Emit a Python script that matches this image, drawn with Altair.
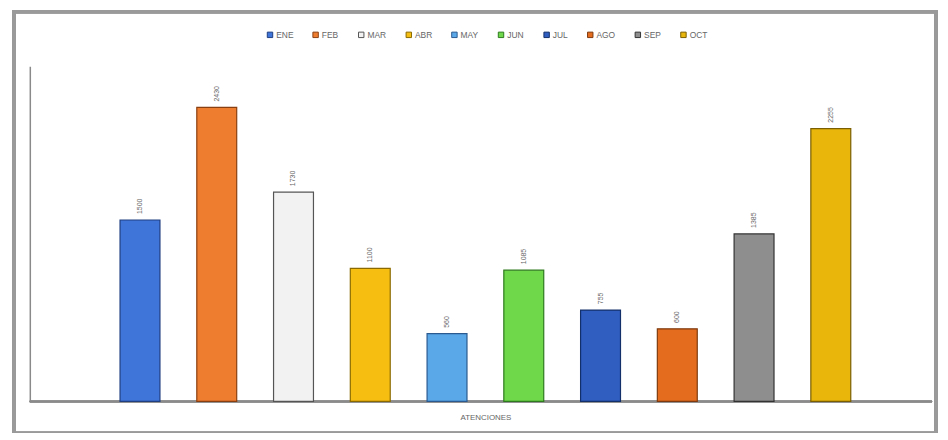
import altair as alt
import pandas as pd

months = ["ENE", "FEB", "MAR", "ABR", "MAY", "JUN", "JUL", "AGO", "SEP", "OCT"]
values = [1500, 2430, 1730, 1100, 560, 1085, 755, 600, 1385, 2255]
fills = ["#3F74D8", "#EF7D30", "#F2F2F2", "#F7BE12", "#5AA8E8", "#6FD84A",
         "#2F5DC0", "#E46C1E", "#8E8E8E", "#E9B70C"]
strokes = ["#1F3F80", "#8A3F10", "#555555", "#8A6A00", "#2A5A90", "#2E7A1E",
           "#14306A", "#7E3A0E", "#333333", "#7A5E00"]

df = pd.DataFrame({"mes": months, "valor": values})

x = alt.X("mes:N", sort=months,
          scale=alt.Scale(range=[91, 828], paddingInner=0.48, paddingOuter=0),
          axis=alt.Axis(title="ATENCIONES", labels=False, ticks=False, domain=False,
                        titleFontSize=8, titleFontWeight="normal",
                        titleColor="#666666", titlePadding=12,
                        titleFont="Liberation Sans"))
y = alt.Y("valor:Q", scale=alt.Scale(domain=[0, 2770], nice=False),
          axis=alt.Axis(title=None, labels=False, ticks=False, grid=False,
                        domainColor="#8a8a8a", domainWidth=1.5))

color = alt.Color("mes:N", sort=months,
                  scale=alt.Scale(domain=months, range=fills),
                  legend=alt.Legend(title=None, orient="none", direction="horizontal",
                                    legendX=238, legendY=-36, symbolType="square",
                                    symbolSize=30, symbolStrokeWidth=1,
                                    labelFontSize=8.5, labelColor="#666666",
                                    labelFont="Liberation Sans",
                                    columnPadding=17, labelOffset=2))

bars = alt.Chart(df).mark_bar(strokeWidth=1.2).encode(
    x=x, y=y, color=color,
    stroke=alt.Stroke("mes:N", sort=months,
                      scale=alt.Scale(domain=months, range=strokes), legend=None),
)

labels = alt.Chart(df).mark_text(angle=270, align="left", baseline="middle",
                                 dx=6, fontSize=7, color="#666666",
                                 font="Liberation Sans").encode(
    x=alt.X("mes:N", sort=months), y="valor:Q", text="valor:Q")

xaxis = alt.Chart(df).mark_rule(color="#8a8a8a", strokeWidth=1.5).encode(
    x=alt.value(0), x2=alt.value(910), y=alt.value(338))

border = alt.Chart(df).mark_rect(fill=None, stroke="#9a9a9a", strokeWidth=3).encode(
    x=alt.value(-16), x2=alt.value(914), y=alt.value(-55), y2=alt.value(370))

chart = alt.layer(border, xaxis, bars, labels).properties(
    width=910, height=338,
    background="white",
    autosize=alt.AutoSizeParams(type="none"),
    padding={"left": 22, "top": 57, "right": 8, "bottom": 30},
).configure_view(stroke=None, strokeWidth=0)

chart.save("out.html", embed_options={"renderer": "svg", "actions": False})
